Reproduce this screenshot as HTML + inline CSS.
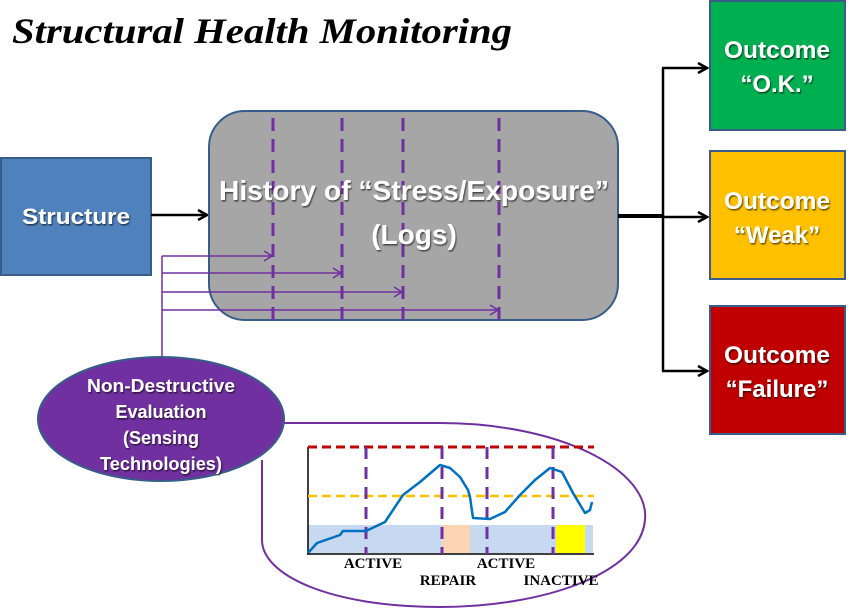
<!DOCTYPE html>
<html><head><meta charset="utf-8"><style>
html,body{margin:0;padding:0;background:#fff;}
svg{display:block;}
.w{font-family:"Liberation Sans",sans-serif;font-weight:bold;fill:#fff;}
.lab{font-family:"Liberation Serif",serif;font-weight:bold;font-size:15px;fill:#000;}
</style></head><body>
<svg width="850" height="611" viewBox="0 0 850 611" xmlns="http://www.w3.org/2000/svg">
<defs>
<filter id="sh" x="-10%" y="-10%" width="130%" height="130%"><feDropShadow dx="1" dy="1.5" stdDeviation="0.8" flood-color="#000" flood-opacity="0.6"/></filter>
<marker id="ab" markerWidth="12" markerHeight="12" refX="10" refY="6" orient="auto" markerUnits="userSpaceOnUse"><path d="M1,1 L10,6 L1,11" fill="none" stroke="#000" stroke-width="2.5"/></marker>
<marker id="ap" markerWidth="12" markerHeight="12" refX="10" refY="6" orient="auto" markerUnits="userSpaceOnUse"><path d="M2,1 L10,6 L2,11" fill="none" stroke="#7030A0" stroke-width="1.5"/></marker>
</defs>
<text x="12" y="43" font-family="Liberation Serif,serif" font-weight="bold" font-style="italic" font-size="36" textLength="500" lengthAdjust="spacingAndGlyphs">Structural Health Monitoring</text>

<rect x="1" y="158" width="150" height="117" fill="#4F81BD" stroke="#385D8A" stroke-width="2"/>
<text x="76" y="224" class="w" font-size="22" text-anchor="middle" textLength="108" lengthAdjust="spacingAndGlyphs" filter="url(#sh)">Structure</text>
<line x1="151" y1="215" x2="207" y2="215" stroke="#000" stroke-width="2.5" marker-end="url(#ab)"/>

<rect x="209" y="111" width="409" height="209" rx="36" fill="#A6A6A6" stroke="#385D8A" stroke-width="2"/>
<g stroke="#7030A0" stroke-width="3" stroke-dasharray="13,8">
<line x1="273" y1="118" x2="273" y2="320"/>
<line x1="342" y1="118" x2="342" y2="320"/>
<line x1="403" y1="118" x2="403" y2="320"/>
<line x1="499" y1="118" x2="499" y2="320"/>
</g>
<text x="414" y="200" class="w" font-size="28" text-anchor="middle" textLength="390" lengthAdjust="spacingAndGlyphs" filter="url(#sh)">History of “Stress/Exposure”</text>
<text x="414" y="244" class="w" font-size="28" text-anchor="middle" filter="url(#sh)">(Logs)</text>

<g stroke="#7030A0" stroke-width="1.5" fill="none">
<line x1="162" y1="256" x2="162" y2="358"/>
<line x1="162" y1="256" x2="272" y2="256" marker-end="url(#ap)"/>
<line x1="162" y1="273" x2="341" y2="273" marker-end="url(#ap)"/>
<line x1="162" y1="292" x2="402" y2="292" marker-end="url(#ap)"/>
<line x1="162" y1="310" x2="498" y2="310" marker-end="url(#ap)"/>
</g>

<line x1="618" y1="216" x2="663" y2="216" stroke="#000" stroke-width="4"/>
<line x1="663" y1="68" x2="663" y2="371" stroke="#000" stroke-width="2.5"/>
<line x1="662" y1="68" x2="707" y2="68" stroke="#000" stroke-width="2.5" marker-end="url(#ab)"/>
<line x1="662" y1="217" x2="707" y2="217" stroke="#000" stroke-width="2.5" marker-end="url(#ab)"/>
<line x1="662" y1="371" x2="707" y2="371" stroke="#000" stroke-width="2.5" marker-end="url(#ab)"/>

<rect x="710" y="1" width="135" height="129" fill="#00B050" stroke="#385D8A" stroke-width="2"/>
<text x="777" y="58" class="w" font-size="24" text-anchor="middle" textLength="106" lengthAdjust="spacingAndGlyphs" filter="url(#sh)">Outcome</text>
<text x="777" y="92" class="w" font-size="24" text-anchor="middle" filter="url(#sh)">“O.K.”</text>
<rect x="710" y="151" width="135" height="128" fill="#FFC000" stroke="#385D8A" stroke-width="2"/>
<text x="777" y="209" class="w" font-size="24" text-anchor="middle" textLength="106" lengthAdjust="spacingAndGlyphs" filter="url(#sh)">Outcome</text>
<text x="777" y="243" class="w" font-size="24" text-anchor="middle" filter="url(#sh)">“Weak”</text>
<rect x="710" y="306" width="135" height="128" fill="#C00000" stroke="#385D8A" stroke-width="2"/>
<text x="777" y="363" class="w" font-size="24" text-anchor="middle" textLength="106" lengthAdjust="spacingAndGlyphs" filter="url(#sh)">Outcome</text>
<text x="777" y="397" class="w" font-size="24" text-anchor="middle" filter="url(#sh)">“Failure”</text>

<path d="M284,423 L440,423 C560,423 650,470 645,520 C640,575 540,607 440,607 C330,607 262,575 262,540 L262,460" fill="none" stroke="#7030A0" stroke-width="2"/>

<ellipse cx="161" cy="419" rx="123" ry="62" fill="#7030A0" stroke="#385D8A" stroke-width="2"/>
<text x="161" y="392" class="w" font-size="18" text-anchor="middle" textLength="148" lengthAdjust="spacingAndGlyphs" filter="url(#sh)">Non-Destructive</text>
<text x="161" y="418" class="w" font-size="18" text-anchor="middle" filter="url(#sh)">Evaluation</text>
<text x="161" y="444" class="w" font-size="18" text-anchor="middle" filter="url(#sh)">(Sensing</text>
<text x="161" y="470" class="w" font-size="18" text-anchor="middle" textLength="122" lengthAdjust="spacingAndGlyphs" filter="url(#sh)">Technologies)</text>

<rect x="308" y="525" width="285" height="28" fill="#C6D9F1"/>
<rect x="442" y="525" width="28" height="28" fill="#FBD4B4"/>
<rect x="556" y="525" width="29" height="28" fill="#FFFF00"/>
<line x1="308" y1="447" x2="308" y2="554" stroke="#000" stroke-width="1.5"/>
<line x1="307" y1="554" x2="594" y2="554" stroke="#000" stroke-width="1.5"/>
<line x1="308" y1="447" x2="594" y2="447" stroke="#C00000" stroke-width="3" stroke-dasharray="9,5"/>
<line x1="308" y1="496" x2="594" y2="496" stroke="#FFC000" stroke-width="2.5" stroke-dasharray="9,5"/>
<g stroke="#7030A0" stroke-width="3" stroke-dasharray="12,8">
<line x1="366" y1="447" x2="366" y2="554"/>
<line x1="442" y1="447" x2="442" y2="554"/>
<line x1="487" y1="447" x2="487" y2="554"/>
<line x1="553" y1="447" x2="553" y2="554"/>
</g>
<polyline points="308,553 317,543 340,535 343,531 366,531 385,522 403,495 420,482 440,465 450,468 460,477 468,490 470,497 473,518 490,519 505,512 520,495 535,480 550,468 562,472 573,493 585,513 590,510 592,502" fill="none" stroke="#0070C0" stroke-width="2.5" stroke-linejoin="round"/>
<text x="373" y="568" class="lab" text-anchor="middle">ACTIVE</text>
<text x="448" y="585" class="lab" text-anchor="middle">REPAIR</text>
<text x="506" y="568" class="lab" text-anchor="middle">ACTIVE</text>
<text x="561" y="585" class="lab" text-anchor="middle">INACTIVE</text>
</svg>
</body></html>
